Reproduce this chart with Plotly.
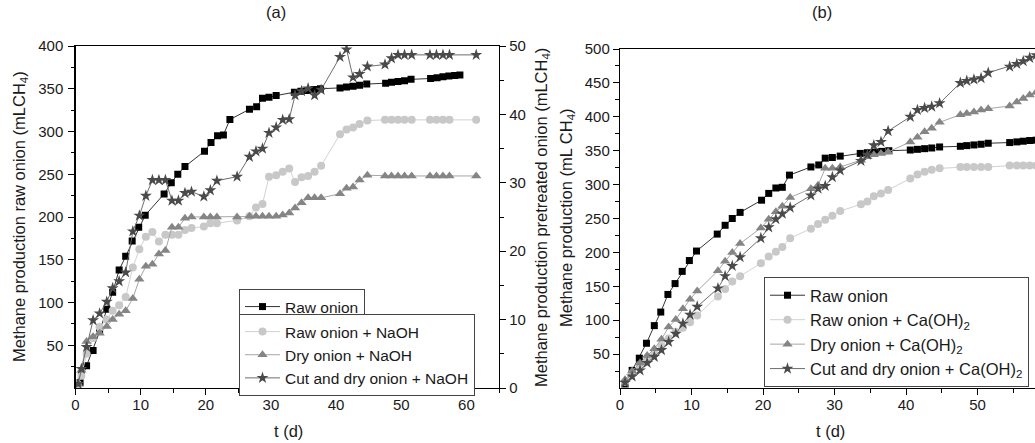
import plotly.graph_objects as go

# ---------------- data ----------------
# Raw onion (mL CH4) - same series in both panels
raw_days = [0.7, 1.7, 2.7, 3.7, 4.8, 5.7, 6.7, 7.7, 8.7, 9.7, 10.7, 13.6, 14.7, 15.7, 16.8,
            19.8, 20.8, 21.8, 22.7, 23.7, 26.7, 27.8, 28.7, 29.7, 30.8, 33.6, 34.6, 35.6, 36.6, 37.6,
            40.6, 41.6, 42.6, 43.6, 44.7, 47.6, 48.5, 49.5, 50.5, 51.5, 54.5, 55.5, 56.4, 57.3, 58.2, 59.0]
raw_onion = [6, 26, 44, 66, 92, 112, 138, 154, 172, 188, 202, 227, 240, 250, 259,
             277, 287, 295, 296, 314, 326, 329, 339, 340, 342, 346, 347, 348, 349, 350,
             351, 352, 353, 354, 355.5, 356.5, 357.5, 358.5, 359.5, 361, 362, 363, 364, 365, 365.5, 366]

# Panel (a): NaOH pretreatment (right axis, mL CH4)
a_days = [0.4, 0.9, 1.7, 2.7, 3.7, 4.8, 5.7, 6.7, 7.7, 8.8, 9.8, 10.8, 11.8, 12.8, 13.8,
          14.8, 15.8, 16.8, 17.8, 19.7, 20.7, 21.7, 24.8, 26.7, 27.7, 28.7, 29.7, 30.8, 31.8, 32.8,
          33.7, 34.7, 35.7, 36.7, 37.7, 40.6, 41.6, 42.6, 43.6, 44.8, 47.5, 48.5, 49.5, 50.5, 51.6,
          54.4, 55.4, 56.4, 57.4, 61.5]
raw_naoh = [0.5, 1.8, 5.0, 7.3, 8.9, 10.0, 11.3, 12.1, 13.3, 17.6, 20.3, 22.1, 22.8, 21.4, 22.4,
            22.4, 22.4, 23.1, 23.4, 23.6, 24.1, 24.1, 24.5, 25.1, 26.4, 26.9, 30.9, 31.1, 31.6, 32.1,
            30.1, 30.8, 31.0, 31.6, 32.5, 37.1, 37.8, 38.1, 38.6, 39.1, 39.2, 39.2, 39.2, 39.2, 39.2,
            39.2, 39.2, 39.2, 39.2, 39.2]
dry_naoh = [0.6, 2.6, 6.8, 7.5, 8.0, 9.0, 10.0, 10.8, 11.3, 13.1, 15.9, 17.8, 18.1, 19.6, 20.1,
            23.5, 23.5, 24.8, 25.0, 25.0, 25.0, 25.0, 25.0, 25.1, 25.1, 25.1, 25.1, 25.1, 25.3, 25.6,
            26.3, 27.1, 27.8, 27.8, 27.8, 28.4, 29.2, 29.4, 30.4, 31.1, 31.0, 31.0, 31.0, 31.0, 31.0,
            31.0, 31.0, 31.0, 31.0, 31.0]
cutdry_naoh = [0.6, 2.8, 6.0, 9.9, 10.9, 12.6, 14.6, 15.6, 16.9, 22.9, 25.2, 28.1, 30.4, 30.4, 30.4,
               27.4, 27.4, 28.5, 28.7, 28.0, 28.9, 30.3, 30.9, 33.8, 34.6, 35.0, 37.3, 38.1, 39.2, 39.3,
               42.8, 43.4, 43.8, 42.8, 43.6, 48.4, 49.5, 45.4, 45.9, 47.0, 47.3, 48.2, 48.7, 48.7, 48.7,
               48.7, 48.7, 48.7, 48.7, 48.7]

# Panel (b): Ca(OH)2 pretreatment (mL CH4)
b_days = [0.7, 1.7, 2.8, 3.8, 4.8, 5.8, 6.8, 7.8, 8.8, 9.8, 10.8, 13.7, 14.7, 15.7, 16.8,
          19.7, 20.8, 21.8, 22.7, 23.8, 26.7, 27.7, 28.7, 29.7, 30.8, 33.7, 34.6, 35.5, 36.5, 37.5,
          40.6, 41.6, 42.6, 43.6, 44.7, 47.6, 48.5, 49.5, 50.5, 51.5, 54.5, 55.5, 56.4, 57.3, 58.2]
raw_caoh = [9, 21, 31, 41, 51, 62, 73, 83, 89, 97, 107, 135, 146, 157, 165,
            184, 194, 201, 208, 221, 235, 242, 248, 254, 261, 271, 275, 283, 287, 292,
            309, 315, 319, 322, 324, 326, 326, 326, 326, 326, 328, 328, 328, 328, 328]
dry_caoh = [12, 25, 37, 48, 58, 72, 90, 101, 117, 131, 143, 173, 187, 200, 213,
            236, 249, 260, 268, 281, 294, 299, 324, 324, 326, 336, 341, 344, 346, 348,
            363, 370, 378, 383, 392, 403, 405, 407, 410, 412, 416, 422, 427, 432, 436]
cutdry_caoh = [8, 17, 26, 37, 46, 56, 68, 80, 95, 108, 120, 147, 165, 180, 193,
               221, 237, 249, 257, 266, 284, 294, 298, 311, 321, 335, 344, 358, 363, 379,
               400, 410, 413, 415, 420, 450, 453, 455, 457, 465, 474, 478, 482, 487, 491]

# ---------------- style ----------------
W, H = 1035, 443
FONT = "Liberation Sans, Arial, sans-serif"
TXT = "#1a1a1a"

def px(x):
    return x / W

def py(y):
    return 1 - y / H

styles = {
    "raw": dict(marker=dict(symbol="square", size=7, color="#000000"), line=dict(color="#333333", width=1)),
    "rawp": dict(marker=dict(symbol="circle", size=8, color="#c8c8c8"), line=dict(color="#d2d2d2", width=1)),
    "dry": dict(marker=dict(symbol="triangle-up", size=9, color="#858585"), line=dict(color="#a6a6a6", width=1)),
    "cut": dict(marker=dict(symbol="star", size=9, color="#4a4a4a"), line=dict(color="#6e6e6e", width=1)),
}

fig = go.Figure()

# panel (a)
fig.add_trace(go.Scatter(x=raw_days, y=raw_onion, name="Raw onion", mode="lines+markers",
                         xaxis="x", yaxis="y", legend="legend", showlegend=True, **styles["raw"]))
fig.add_trace(go.Scatter(x=a_days, y=raw_naoh, name="Raw onion + NaOH", mode="lines+markers",
                         xaxis="x", yaxis="y2", legend="legend2", **styles["rawp"]))
fig.add_trace(go.Scatter(x=a_days, y=dry_naoh, name="Dry onion + NaOH", mode="lines+markers",
                         xaxis="x", yaxis="y2", legend="legend2", **styles["dry"]))
fig.add_trace(go.Scatter(x=a_days, y=cutdry_naoh, name="Cut and dry onion + NaOH", mode="lines+markers",
                         xaxis="x", yaxis="y2", legend="legend2", **styles["cut"]))

# panel (b)
fig.add_trace(go.Scatter(x=raw_days, y=raw_onion, name="Raw onion", mode="lines+markers",
                         xaxis="x3", yaxis="y3", legend="legend3", **styles["raw"]))
fig.add_trace(go.Scatter(x=b_days, y=raw_caoh, name="Raw onion + Ca(OH)<sub>2</sub>", mode="lines+markers",
                         xaxis="x3", yaxis="y3", legend="legend3", **styles["rawp"]))
fig.add_trace(go.Scatter(x=b_days, y=dry_caoh, name="Dry onion + Ca(OH)<sub>2</sub>", mode="lines+markers",
                         xaxis="x3", yaxis="y3", legend="legend3", **styles["dry"]))
fig.add_trace(go.Scatter(x=b_days, y=cutdry_caoh, name="Cut and dry onion + Ca(OH)<sub>2</sub>", mode="lines+markers",
                         xaxis="x3", yaxis="y3", legend="legend3", **styles["cut"]))

tickfont = dict(family=FONT, size=15, color=TXT)
common = dict(showline=True, linecolor="#000000", linewidth=1.2, ticks="outside", ticklen=6,
              tickcolor="#000000", tickwidth=1, showgrid=False, zeroline=False,
              tickfont=tickfont)
minor_x = dict(tickmode="linear", tick0=5, dtick=10, ticklen=3.5, ticks="outside", tickcolor="#000000")

a_x0, a_x1 = 75.5, 499
a_y0, a_y1 = 46, 388
b_x0 = 620
b_y0, b_y1 = 49, 388

fig.update_layout(
    width=W, height=H, showlegend=True,
    margin=dict(l=0, r=0, t=0, b=0, autoexpand=False),
    paper_bgcolor="white", plot_bgcolor="white",
    font=dict(family=FONT, size=15, color=TXT),
    xaxis=dict(domain=[px(a_x0), px(a_x1)], range=[0, 65], anchor="y", mirror=True,
               tickmode="array", tickvals=[0, 10, 20, 30, 40, 50, 60], ticklabelstandoff=-3,
               minor=minor_x, **common),
    yaxis=dict(domain=[py(a_y1), py(a_y0)], range=[0, 400], anchor="x",
               tickmode="array", tickvals=[50, 100, 150, 200, 250, 300, 350, 400], ticklabelstandoff=2,
               minor=dict(tickmode="linear", tick0=25, dtick=50, ticklen=3.5, ticks="outside", tickcolor="#000000"),
               **common),
    yaxis2=dict(overlaying="y", side="right", range=[0, 50], anchor="x",
                tickmode="array", tickvals=[0, 10, 20, 30, 40, 50], ticklabelstandoff=0,
                minor=dict(tickmode="linear", tick0=5, dtick=10, ticklen=3.5, ticks="outside", tickcolor="#000000"),
                **common),
    xaxis3=dict(domain=[px(b_x0), 1], range=[0, (W - b_x0) / 7.15], anchor="y3", mirror=True,
                tickmode="array", tickvals=[0, 10, 20, 30, 40, 50, 60], ticklabelstandoff=-3,
                minor=minor_x, **common),
    yaxis3=dict(domain=[py(b_y1), py(b_y0)], range=[0, 500], anchor="x3",
                tickmode="array", tickvals=[50, 100, 150, 200, 250, 300, 350, 400, 450, 500], ticklabelstandoff=0,
                minor=dict(tickmode="linear", tick0=25, dtick=50, ticklen=3.5, ticks="outside", tickcolor="#000000"),
                **common),
)

legend_common = dict(visible=True, bgcolor="white", bordercolor="#444444", borderwidth=1,
                     xanchor="left", yanchor="top", itemwidth=35, tracegroupgap=0,
                     itemclick=False, itemdoubleclick=False)
font_a = dict(family=FONT, size=15.5, color=TXT)
font_b = dict(family=FONT, size=16.5, color=TXT)
fig.update_layout(
    legend=dict(x=px(239), y=py(289), font=font_a, **legend_common),
    legend2=dict(x=px(239), y=py(314), font=font_a, **legend_common),
    legend3=dict(x=px(764), y=py(277), font=font_b, **legend_common),
)

title_font = dict(family=FONT, size=16.5, color=TXT)
ann = [
    dict(text="(a)", x=px(276), y=py(12)),
    dict(text="(b)", x=px(822), y=py(12)),
    dict(text="t (d)", x=px(288), y=py(431)),
    dict(text="t (d)", x=px(830), y=py(431)),
    dict(text="Methane production raw onion (mLCH<sub>4</sub>)", x=px(20), y=py(217), textangle=-90),
    dict(text="Methane production pretreated onion (mLCH<sub>4</sub>)", x=px(542), y=py(218), textangle=-90),
    dict(text="Methane production (mL CH<sub>4</sub>)", x=px(567), y=py(218), textangle=-90),
]
for a in ann:
    a.update(xref="paper", yref="paper", showarrow=False, xanchor="center", yanchor="middle",
             font=title_font)
    fig.add_annotation(**a)

fig.write_html("out.html",
               config={"displayModeBar": False, "staticPlot": True},
               post_script="document.body.style.margin='0px';document.body.style.overflow='hidden';")
